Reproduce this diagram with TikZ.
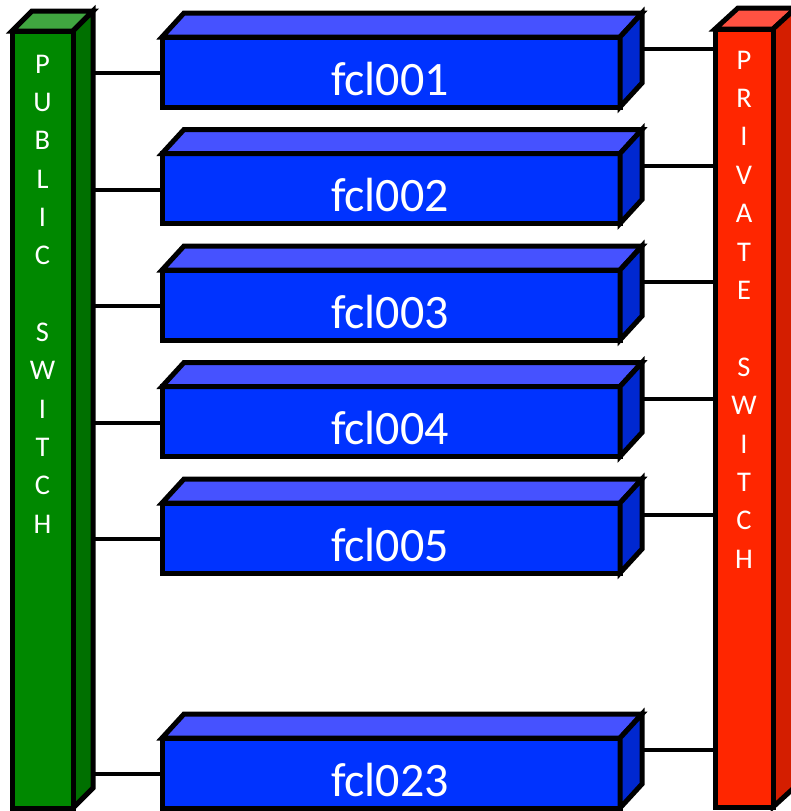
\documentclass[tikz,border=0pt]{standalone}
\usepackage{fontspec}
\setmainfont{Carlito}
\usetikzlibrary{calc}
\definecolor{gfront}{RGB}{0,136,0}
\definecolor{gside}{RGB}{0,112,0}
\definecolor{gtop}{RGB}{64,166,64}
\definecolor{bfront}{RGB}{0,51,255}
\definecolor{bside}{RGB}{0,40,208}
\definecolor{btop}{RGB}{70,82,255}
\definecolor{rfront}{RGB}{255,38,0}
\definecolor{rside}{RGB}{212,30,0}
\definecolor{rtop}{RGB}{255,82,66}
\tikzset{
  edge/.style={draw=black, line width=5pt, line join=miter},
  face/.style={edge, rectangle, inner sep=0pt, outer sep=0pt},
  conn/.style={draw=black, line width=4pt},
  boxtext/.style={text=white, anchor=base, inner sep=0pt, font=\fontsize{48}{56}\selectfont},
  letter/.style={text=white, anchor=base, inner sep=0pt, font=\fontsize{28.5}{34}\selectfont}
}
\begin{document}
\begin{tikzpicture}[x=1pt,y=-1pt]
\useasboundingbox (0,0) rectangle (790,811);
% switches: front faces
\node[face, fill=gfront, minimum width=61pt, minimum height=777pt] (pub) at (42.5,419.5) {};
\node[face, fill=rfront, minimum width=58pt, minimum height=778pt] (priv) at (744,418) {};
\coordinate (pubR) at ($(pub.north east)+(20,0)$);
% connectors
\foreach \n/\t in {1/37,2/153.5,3/270,4/386.5,5/503,6/738}{
  \coordinate (bl\n) at (162,\t+36);
  \coordinate (br\n) at (643,\t+12);
  \draw[conn] (bl\n) -- (bl\n -| pubR);
  \draw[conn] (br\n) -- (br\n -| priv.west);
}
% public switch
\filldraw[edge, fill=gtop] (pub.north west) -- ++(20,-20) -- ++(61,0) -- (pub.north east) -- cycle;
\filldraw[edge, fill=gside] (pub.north east) -- ++(20,-20) -- ++(0,777) -- (pub.south east) -- cycle;
\node[face, fill=gfront, minimum width=61pt, minimum height=777pt] (pubF) at (42.5,419.5) {};
\foreach \l [count=\i] in {P,U,B,L,I,C,{},S,W,I,T,C,H}{
  \node[letter] (pl\i) at (42.5,73+38.35*\i-38.35) {\l};
}
% private switch
\filldraw[edge, fill=rtop] (priv.north west) -- ++(23,-21) -- ++(58,0) -- (priv.north east) -- cycle;
\filldraw[edge, fill=rside] (priv.north east) -- ++(23,-21) -- ++(0,778) -- (priv.south east) -- cycle;
\node[face, fill=rfront, minimum width=58pt, minimum height=778pt] (privF) at (744,418) {};
\foreach \l [count=\i] in {P,R,I,V,A,T,E,{},S,W,I,T,C,H}{
  \node[letter] (rl\i) at (744,69+38.4*\i-38.4) {\l};
}
% nodes
\foreach \n/\t/\lab in {1/37/fcl001,2/153.5/fcl002,3/270/fcl003,4/386.5/fcl004,5/503/fcl005,6/738/fcl023}{
  \node[face, fill=bfront, minimum width=458pt, minimum height=70pt] (b\n) at (391,\t+35) {};
  \filldraw[edge, fill=btop] (b\n.north west) -- ++(22,-24) -- ++(458,0) -- (b\n.north east) -- cycle;
  \filldraw[edge, fill=bside] (b\n.north east) -- ++(22,-24) -- ++(0,70) -- (b\n.south east) -- cycle;
  \node[boxtext] (t\n) at ($(b\n.south)+(-1,-12)$) {\lab};
}
\end{tikzpicture}
\end{document}
